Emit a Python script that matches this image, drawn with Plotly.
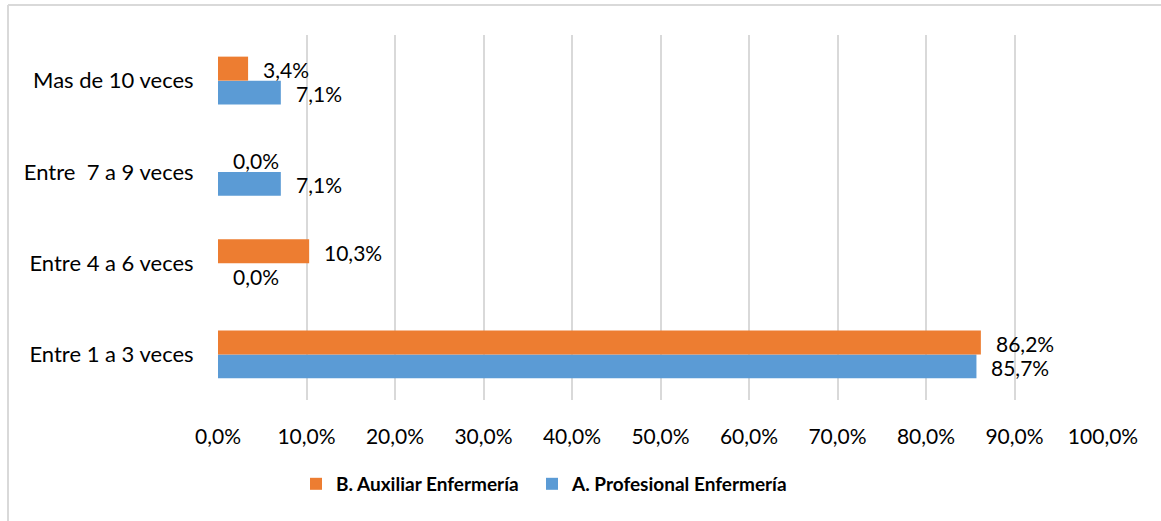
import plotly.graph_objects as go

categories = ["Entre 1 a 3 veces", "Entre 4 a 6 veces", "Entre  7 a 9 veces", "Mas de 10 veces"]
profesional = [85.7, 0.0, 7.1, 7.1]
auxiliar = [86.2, 10.3, 0.0, 3.4]
series_names = ["A. Profesional Enfermería", "B. Auxiliar Enfermería"]
x_ticks = [0, 10, 20, 30, 40, 50, 60, 70, 80, 90, 100]
x_tick_labels = [f"{v:.1f}%".replace(".", ",") for v in x_ticks]

colors = ["#5B9BD5", "#ED7D31"]
legend_ids = ["legend2", "legend"]
FONT = "Lato"

fig = go.Figure()
for name, vals, col, lg in zip(series_names, [profesional, auxiliar], colors, legend_ids):
    fig.add_trace(go.Bar(
        y=categories, x=vals, name=name, orientation="h", legend=lg,
        marker=dict(color=col, line=dict(width=0)),
    ))

# data labels, offset like the reference
annotations = []
for vals, yshift in [(profesional, -13), (auxiliar, 11)]:
    for c, v in zip(categories, vals):
        annotations.append(dict(
            x=v, y=c, xref="x", yref="y", text=f"{v:.1f}%".replace(".", ","),
            showarrow=False, xanchor="left", yanchor="middle", xshift=13, yshift=yshift,
            font=dict(family=FONT, size=21, color="#000000"),
        ))

L, R, T, B = 218, 58, 35, 121
W, H = 1161, 521
pw, ph = W - L - R, H - T - B
shapes = [
    dict(type="line", xref="paper", yref="paper",
         x0=(8 - L) / pw, x1=(W - L) / pw, y0=(H - B - 5) / ph, y1=(H - B - 5) / ph,
         line=dict(color="#D9D9D9", width=2)),
    dict(type="line", xref="paper", yref="paper",
         x0=(8 - L) / pw, x1=(8 - L) / pw, y0=(H - B - 5) / ph, y1=(H - B - H) / ph,
         line=dict(color="#D9D9D9", width=2)),
]

legend_style = dict(orientation="h", xanchor="left", y=-0.23, yanchor="middle",
                    font=dict(family=FONT, size=19, color="#000000", weight="bold"),
                    itemwidth=30, bgcolor="rgba(0,0,0,0)")

fig.update_layout(
    width=W, height=H,
    margin=dict(l=L, r=R, t=T, b=B, autoexpand=False),
    paper_bgcolor="white", plot_bgcolor="white",
    barmode="group", bargap=0.474, bargroupgap=0,
    font=dict(family=FONT, size=21, color="#000000"),
    showlegend=True,
    legend=dict(x=(296 - L) / pw, **legend_style),
    legend2=dict(x=(532 - L) / pw, **legend_style),
    xaxis=dict(range=[0, 100], tickvals=x_ticks, ticktext=x_tick_labels,
               showgrid=True, gridcolor="#D9D9D9", gridwidth=2, zeroline=False,
               showline=False, ticks="outside", ticklen=18, tickcolor="rgba(0,0,0,0)",
               fixedrange=True, automargin=False),
    yaxis=dict(showgrid=False, zeroline=False, showline=False, automargin=False,
               tickfont=dict(family=FONT, size=22, color="#000000"),
               ticks="outside", ticklen=19, tickcolor="rgba(0,0,0,0)", fixedrange=True),
    annotations=annotations,
    shapes=shapes,
)

fig.write_html("out.html", config={"displayModeBar": False},
               post_script="document.body.style.margin='0';")
